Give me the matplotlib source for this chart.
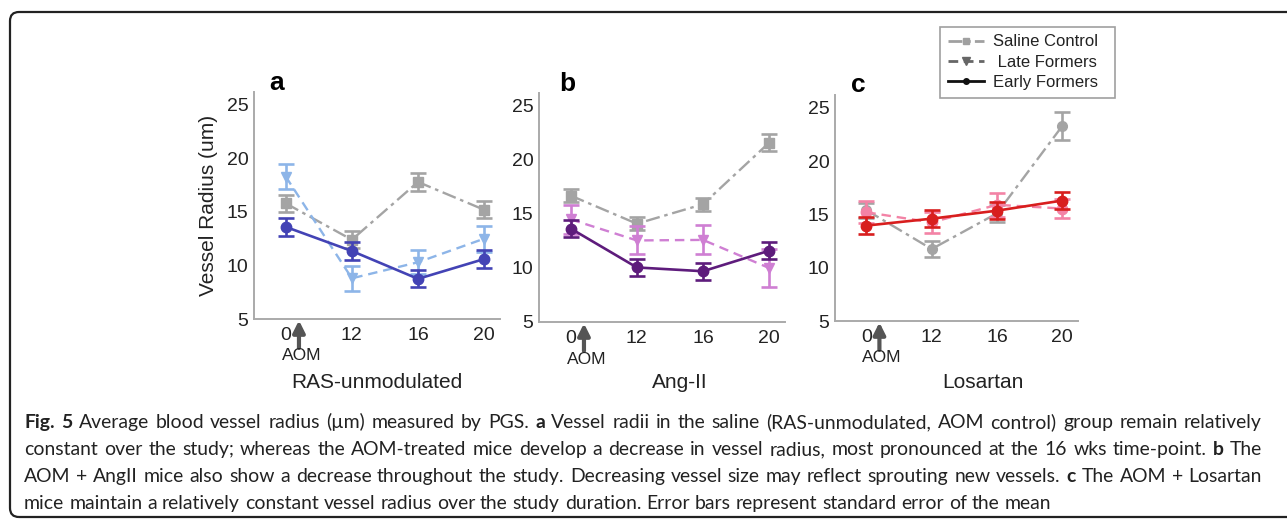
import matplotlib
matplotlib.use("Agg")
import matplotlib.pyplot as plt
from matplotlib.lines import Line2D
from matplotlib.patches import FancyBboxPatch
from matplotlib.transforms import IdentityTransform
import numpy as np

# ---------------- data ----------------
weeks = ["0", "12", "16", "20"]

a_saline = [15.8, 12.4, 17.8, 15.2]
a_saline_err = [0.8, 0.8, 0.8, 0.8]
a_late = [18.3, 8.8, 10.3, 12.5]
a_late_err = [1.2, 1.15, 1.1, 1.2]
a_early = [13.6, 11.35, 8.75, 10.6]
a_early_err = [0.82, 0.82, 0.8, 0.8]

b_saline = [16.7, 14.1, 15.9, 21.6]
b_saline_err = [0.6, 0.6, 0.6, 0.78]
b_late = [14.5, 12.55, 12.6, 10.0]
b_late_err = [1.35, 1.3, 1.35, 1.8]
b_early = [13.65, 10.05, 9.7, 11.6]
b_early_err = [0.78, 0.8, 0.78, 0.78]

c_saline = [15.4, 11.75, 15.1, 23.3]
c_saline_err = [0.7, 0.72, 0.78, 1.3]
c_late = [15.2, 14.25, 15.9, 15.55]
c_late_err = [1.05, 1.0, 1.1, 0.88]
c_early = [13.95, 14.6, 15.35, 16.3]
c_early_err = [0.78, 0.82, 0.78, 0.8]

panel_letters = ["a", "b", "c"]
panel_titles = ["RAS-unmodulated", "Ang-II", "Losartan"]
legend_labels = ["Saline Control", " Late Formers", "Early Formers"]
ylabel = "Vessel Radius (um)"
yticks = [5, 10, 15, 20, 25]

caption_lines = [
    [("Fig. 5", True), ("Average blood vessel radius (µm) measured by PGS.", False), ("a", True),
     ("Vessel radii in the saline (RAS-unmodulated, AOM control) group remain relatively", False)],
    [("constant over the study; whereas the AOM-treated mice develop a decrease in vessel radius, most pronounced at the 16 wks time-point.", False),
     ("b", True), ("The", False)],
    [("AOM + AngII mice also show a decrease throughout the study. Decreasing vessel size may reflect sprouting new vessels.", False),
     ("c", True), ("The AOM + Losartan", False)],
    [("mice maintain a relatively constant vessel radius over the study duration. Error bars represent standard error of the mean", False)],
]

# ---------------- figure ----------------
W, H = 1287, 520
fig = plt.figure(figsize=(W / 100, H / 100), dpi=100)
fig.patch.set_facecolor("white")

def fx(px):
    return px / W

def fy(py):
    return 1 - py / H

def rect(l, t, r, b):
    return [fx(l), fy(b), (r - l) / W, (b - t) / H]

plt.rcParams["font.family"] = ["Liberation Sans", "DejaVu Sans"]

axes_px = [(254, 92, 500, 319), (539, 93, 785, 322), (835, 95, 1078, 321)]
gray = "#a4a4a4"
panels = [
    dict(saline=(a_saline, a_saline_err), late=(a_late, a_late_err), early=(a_early, a_early_err),
         c_late="#8db5e8", c_early="#4343b5", m_sal="s", m_late="v", m_early="o"),
    dict(saline=(b_saline, b_saline_err), late=(b_late, b_late_err), early=(b_early, b_early_err),
         c_late="#cf7fd3", c_early="#5e1c7c", m_sal="s", m_late="v", m_early="o"),
    dict(saline=(c_saline, c_saline_err), late=(c_late, c_late_err), early=(c_early, c_early_err),
         c_late="#f383a6", c_early="#d81e1e", m_sal="o", m_late="o", m_early="o"),
]
letter_px = [(277, 83), (567, 84), (858, 85)]
title_px = [(377, 383), (680, 383), (983, 383)]

x = np.arange(len(weeks))
for i, (p, apx) in enumerate(zip(panels, axes_px)):
    ax = fig.add_axes(rect(*apx))
    ax.set_xlim(-0.48, 3.24)
    ax.set_ylim(5, 26.2)
    for s in ["top", "right"]:
        ax.spines[s].set_visible(False)
    for s in ["left", "bottom"]:
        ax.spines[s].set_color("#aaaaaa")
        ax.spines[s].set_linewidth(1.4)
    ax.set_xticks(x)
    ax.set_xticklabels(weeks)
    ax.set_yticks(yticks)
    ax.tick_params(length=0, labelsize=14, colors="#222222")
    ax.tick_params(axis="y", pad=4)
    ax.tick_params(axis="x", pad=6)

    sv, se = p["saline"]
    ax.errorbar(x, sv, yerr=se, color=gray, ecolor=gray, marker=p["m_sal"], markersize=7,
                linestyle=(0, (6, 2, 1.5, 2)), linewidth=1.7, elinewidth=1.9, capsize=5.5,
                capthick=1.9, zorder=2)
    lv, le = p["late"]
    ax.errorbar(x, lv, yerr=le, color=p["c_late"], ecolor=p["c_late"], marker=p["m_late"],
                markersize=7.5, linestyle=(0, (4, 2.5)), linewidth=1.7, elinewidth=1.9, capsize=5.5,
                capthick=1.9, zorder=3)
    ev, ee = p["early"]
    ax.errorbar(x, ev, yerr=ee, color=p["c_early"], ecolor=p["c_early"], marker=p["m_early"],
                markersize=7.5, linestyle="-", linewidth=1.9, elinewidth=1.9, capsize=5.5,
                capthick=1.9, zorder=4)

    if i == 0:
        ax.set_ylabel(ylabel, fontsize=15, color="#222222", labelpad=6)

    # AOM arrow
    tr = ax.get_xaxis_transform()
    ax.annotate("", xy=(0.2, 0), xycoords=tr, xytext=(0, -29), textcoords="offset pixels",
                arrowprops=dict(arrowstyle="-|>,head_width=0.35,head_length=0.7", lw=3,
                                color="#555555", shrinkA=0, shrinkB=1),
                annotation_clip=False)
    ax.annotate("AOM", xy=(0.24, 0), xycoords=tr, xytext=(0, -37), textcoords="offset pixels",
                ha="center", va="center", fontsize=12.5, color="#222222", annotation_clip=False)

    fig.text(fx(letter_px[i][0]), fy(letter_px[i][1]), panel_letters[i], fontsize=19,
             fontweight="bold", ha="center", va="center", color="black")
    fig.text(fx(title_px[i][0]), fy(title_px[i][1]), panel_titles[i], fontsize=15,
             ha="center", va="center", color="#222222")

# legend
handles = [
    Line2D([0], [0], color="#a0a0a0", linestyle=(0, (5, 1.5, 1.5, 1.5)), linewidth=2,
           marker="s", markersize=5),
    Line2D([0], [0], color="#666666", linestyle=(0, (3.5, 2)), linewidth=2,
           marker="v", markersize=6),
    Line2D([0], [0], color="#111111", linestyle="-", linewidth=2, marker="o", markersize=4),
]
leg = fig.legend(handles, legend_labels, loc="upper left",
                 bbox_to_anchor=(fx(940), fy(100), (1115 - 940) / W, 73 / H), mode="expand",
                 frameon=True, fancybox=False, edgecolor="#888888", fontsize=12,
                 handlelength=2.2, handletextpad=0.55, labelspacing=0.32, borderpad=0.45,
                 borderaxespad=0)
leg.get_frame().set_linewidth(1.2)
for t in leg.get_texts():
    t.set_color("#222222")

# outer rounded border (pixel coordinates, extends past right edge)
border = FancyBboxPatch((10, H - 517), 1320 - 10, 517 - 12,
                        boxstyle="round,pad=0,rounding_size=9", transform=IdentityTransform(),
                        facecolor="none", edgecolor="#222222", linewidth=1.6, clip_on=False)
fig.add_artist(border)

# caption (justified lines)
cap_font = ["Lato", "DejaVu Sans"]
renderer = fig.canvas.get_renderer()

def text_width(s, size, bold=False):
    t = fig.text(0, 0, s, fontsize=size, family=cap_font,
                 fontweight="bold" if bold else "normal")
    w = t.get_window_extent(renderer).width
    t.remove()
    return w

probe = "Average blood vessel radius (µm) measured by PGS."
cap_size = 12.0 * 440 / text_width(probe, 12.0)
space_w = text_width("a a", cap_size) - text_width("aa", cap_size)

x_start, x_end = 24, 1262
baselines = [428, 455, 482, 509]
for li, line in enumerate(caption_lines):
    words = []
    for seg, bold in line:
        for w_ in seg.split(" "):
            if w_:
                words.append((w_, bold))
    widths = [text_width(w_, cap_size, b) for w_, b in words]
    if li < len(caption_lines) - 1:
        gap = (x_end - x_start - sum(widths)) / (len(words) - 1)
    else:
        gap = space_w
    cx = x_start
    for (w_, b), wd in zip(words, widths):
        fig.text(fx(cx), fy(baselines[li]), w_, fontsize=cap_size, family=cap_font,
                 fontweight="bold" if b else "normal",
                 ha="left", va="baseline", color="#222222")
        cx += wd + gap

fig.savefig("out.png", dpi=100, facecolor="white")
